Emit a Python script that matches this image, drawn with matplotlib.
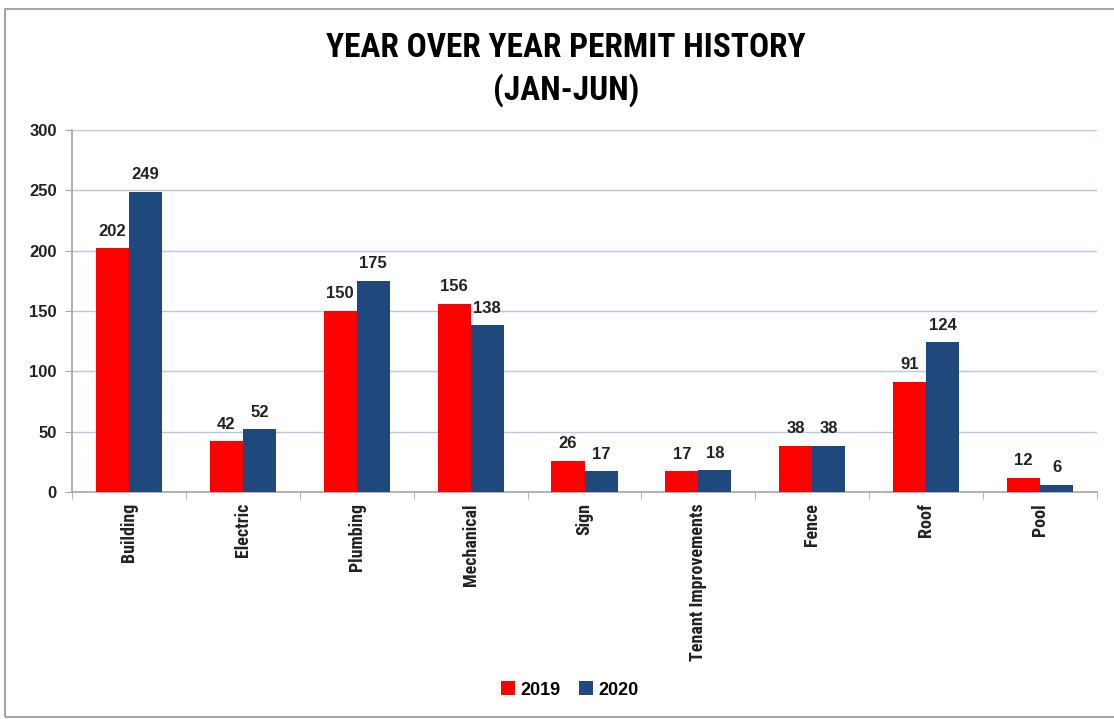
import matplotlib
matplotlib.use("Agg")
import matplotlib.pyplot as plt
import numpy as np
from matplotlib.patches import Rectangle

categories = ["Building", "Electric", "Plumbing", "Mechanical", "Sign",
              "Tenant Improvements", "Fence", "Roof", "Pool"]
values_2019 = [202, 42, 150, 156, 26, 17, 38, 91, 12]
values_2020 = [249, 52, 175, 138, 17, 18, 38, 124, 6]
series_names = ["2019", "2020"]
yticks = [0, 50, 100, 150, 200, 250, 300]

c2019 = "#FF0000"
c2020 = "#1F497D"

fig = plt.figure(figsize=(11.14, 7.19), dpi=100)
# outer frame
fig.patches.append(Rectangle((5/1114, 2/719), 1.2, 1 - 11/719, transform=fig.transFigure,
                             fill=False, edgecolor="#A6A6A6", linewidth=1.5))

ax = fig.add_axes([72/1114, 1 - 492/719, (1097-72)/1114, (492-130)/719])
x = np.arange(len(categories))
w = 0.29
b1 = ax.bar(x - w/2, values_2019, w, color=c2019, label=series_names[0], zorder=3)
b2 = ax.bar(x + w/2, values_2020, w, color=c2020, label=series_names[1], zorder=3)

for bars in (b1, b2):
    for rect in bars:
        h = rect.get_height()
        ax.annotate(f"{int(h)}", (rect.get_x() + rect.get_width()/2, h),
                    xytext=(0, 7), textcoords="offset points", ha="center", va="bottom",
                    fontsize=12, fontweight="bold", color="#222222", family="Liberation Sans")

ax.set_xlim(-0.5, len(categories) - 0.5)
ax.set_ylim(0, 300)
ax.set_yticks(yticks)
ax.set_yticklabels([str(t) for t in yticks], fontsize=12, fontweight="bold",
                   family="Liberation Sans", color="#222222")
ax.set_xticks(x)
ax.set_xticklabels(categories, rotation=90, fontsize=13, family="Roboto Condensed",
                   fontweight="bold", color="#222222")
ax.set_xticks(np.arange(-0.5, len(categories), 1), minor=True)
ax.tick_params(axis="x", which="major", length=0, pad=8)
ax.tick_params(axis="x", which="minor", length=5, color="#A6A6A6", direction="out")
ax.tick_params(axis="y", length=5, color="#A6A6A6", pad=6)
ax.yaxis.grid(True, color="#B4C7E7", linewidth=1, zorder=0)
ax.set_axisbelow(True)
for s in ("top", "right"):
    ax.spines[s].set_visible(False)
for s in ("left", "bottom"):
    ax.spines[s].set_color("#A6A6A6")
    ax.spines[s].set_linewidth(1.2)

fig.text(566/1114, 1 - 48/719, "YEAR OVER YEAR PERMIT HISTORY", ha="center", va="center",
         fontsize=24, fontweight="bold", family="Roboto Condensed")
fig.text(566/1114, 1 - 90/719, "(JAN-JUN)", ha="center", va="center",
         fontsize=24, fontweight="bold", family="Roboto Condensed")

leg = fig.legend(handles=[b1, b2], labels=series_names, loc="center",
                 bbox_to_anchor=(570/1114, 1 - 690/719), ncol=2, frameon=False,
                 prop={"family": "Liberation Sans", "weight": "bold", "size": 13},
                 handlelength=0.8, handleheight=0.8, handletextpad=0.3, columnspacing=1.0)

fig.savefig("out.png", dpi=100)
